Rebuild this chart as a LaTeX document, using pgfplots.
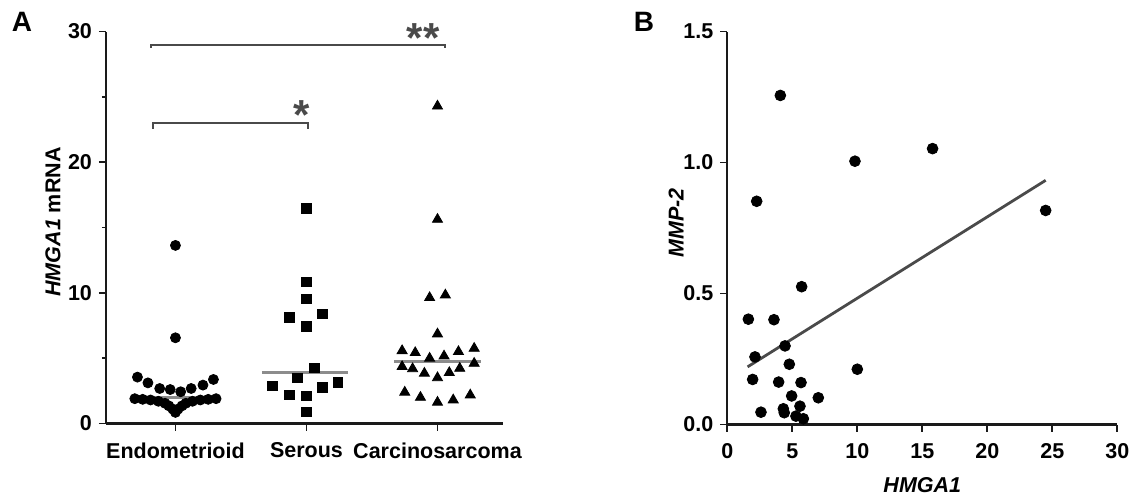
\documentclass[border=0pt]{standalone}
\usepackage{fontspec}
\setmainfont{Liberation Sans}
\usepackage{pgfplots}
\pgfplotsset{compat=1.18}

\definecolor{axisgray}{HTML}{1A1A1A}
\definecolor{medgray}{HTML}{8C8C8C}
\definecolor{linegray}{HTML}{4A4A4A}

\pgfplotsset{
  panel/.style={
    scale only axis,
    axis lines*=left,
    axis line style={line width=1.1pt, color=axisgray},
    tick style={line width=0.9pt, color=axisgray},
    tick align=outside,
    major tick length=3.5pt,
    minor tick length=2pt,
    tick label style={font=\fontsize{10.75}{12}\selectfont\bfseries},
    xticklabel style={yshift=-2.5pt},
    /pgf/number format/assume math mode=true,
    label style={font=\fontsize{10.75}{12}\selectfont\bfseries},
    clip=false,
  }
}

% panel A, x = category offset (0 endometrioid, 1 serous, 2 carcinosarcoma)
\pgfplotstableread{
x y
0 13.63
0 6.56
-0.29 3.55
-0.21 3.11
-0.12 2.68
-0.04 2.60
0.04 2.43
0.12 2.68
0.21 2.94
0.29 3.37
-0.31 1.90
-0.25 1.85
-0.19 1.80
0.19 1.80
0.25 1.85
0.31 1.90
-0.13 1.70
0.13 1.70
-0.08 1.55
0.08 1.55
-0.05 1.35
0.05 1.35
-0.02 1.10
0.02 1.10
0 0.85
}\endo

\pgfplotstableread{
x y
1 16.47
1 10.85
1 9.53
0.87 8.10
1.12 8.38
1 7.41
1.06 4.27
0.93 3.48
0.74 2.87
0.87 2.18
1 2.10
1.12 2.77
1.24 3.15
1 0.90
}\serous

\pgfplotstableread{
x y
2 24.29
2 15.62
1.94 9.63
2.06 9.83
2 6.85
1.73 5.57
1.83 5.42
1.94 4.99
2.05 5.16
2.16 5.50
2.28 5.75
1.73 4.35
1.81 4.19
1.90 3.84
2 3.50
2.09 3.89
2.17 4.22
2.28 4.60
1.75 2.39
1.87 2.00
2 1.62
2.12 1.80
2.25 2.18
}\carcino

% panel B
\pgfplotstableread{
x y
4.08 1.256
2.26 0.852
9.82 1.005
15.79 1.053
24.49 0.817
5.72 0.526
1.62 0.402
3.59 0.400
4.44 0.300
2.13 0.258
4.77 0.230
10.00 0.211
1.95 0.172
3.95 0.162
5.67 0.160
4.95 0.109
7.00 0.102
5.59 0.070
4.31 0.060
2.59 0.047
4.38 0.045
5.28 0.032
5.85 0.022
}\corr

\begin{document}
\begin{tikzpicture}
\useasboundingbox (-53pt,-38.25pt) rectangle (517.5pt,211.75pt);

\begin{axis}[panel,
  width=198.5pt, height=196pt,
  xmin=-0.53, xmax=2.5, ymin=0, ymax=30,
  xtick={0,1,2},
  xticklabels={Endometrioid,Serous,Carcinosarcoma},
  ytick={0,10,20,30}, minor ytick={5,15,25},
  ylabel={\textit{HMGA1} mRNA},
  ylabel style={at={(axis description cs:-0.1335,0.514)}, anchor=center},
]
\addplot[only marks, mark=*, mark size=2.5pt, black] table {\endo};
\addplot[only marks, mark=square*, mark size=2.4pt, black] table {\serous};
\addplot[only marks, mark=triangle*, mark size=2.9pt, black] table {\carcino};
% medians
\addplot[medgray, line width=1.5pt] coordinates {(-0.33,2.0) (0.33,2.0)};
\addplot[medgray, line width=1.5pt] coordinates {(0.66,3.92) (1.32,3.92)};
\addplot[medgray, line width=1.5pt] coordinates {(1.67,4.73) (2.33,4.73)};
% significance brackets
\addplot[linegray, line width=1pt] coordinates {(-0.19,28.75) (-0.19,29) (2.06,29) (2.06,28.75)};
\addplot[linegray, line width=1pt] coordinates {(-0.175,22.55) (-0.175,23) (1.01,23) (1.01,22.55)};
\node[anchor=base, font=\fontsize{21}{21}\selectfont\bfseries, text=linegray, inner sep=0pt] at (axis cs:1.89,28.38) {**};
\node[anchor=base, font=\fontsize{21}{21}\selectfont\bfseries, text=linegray, inner sep=0pt] at (axis cs:0.96,22.49) {*};
\end{axis}
\node[font=\fontsize{14}{14}\selectfont\bfseries] at (-42pt,200.75pt) {A};

\begin{axis}[panel,
  at={(310.65pt,-0.5pt)},
  width=195pt, height=196.5pt,
  xmin=0, xmax=30, ymin=0, ymax=1.5,
  xtick={0,5,...,30},
  ytick={0,0.5,1,1.5},
  yticklabel style={/pgf/number format/.cd, fixed, fixed zerofill, precision=1},
  xlabel={\textit{HMGA1}},
  xlabel style={at={(axis description cs:0.5,-0.154)}, anchor=center},
  ylabel={\textit{MMP-2}},
  ylabel style={at={(axis description cs:-0.1315,0.513)}, anchor=center},
]
\addplot[only marks, mark=*, mark size=2.7pt, black] table {\corr};
\addplot[linegray, line width=1.4pt] coordinates {(1.56,0.22) (24.49,0.932)};
\end{axis}
\node[font=\fontsize{14}{14}\selectfont\bfseries] at (269pt,200.75pt) {B};
\end{tikzpicture}
\end{document}
